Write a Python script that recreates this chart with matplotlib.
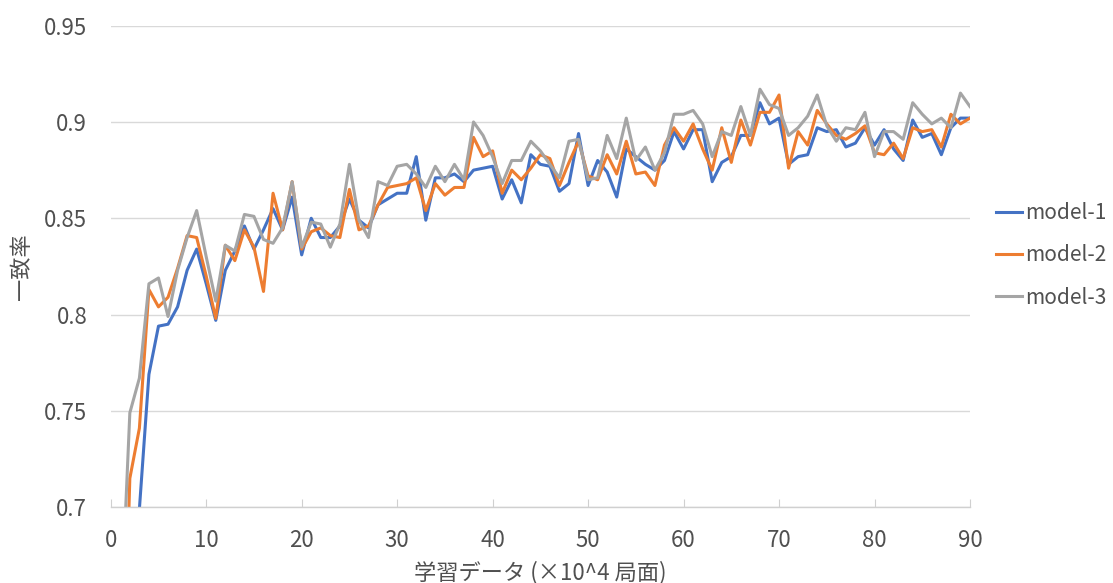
#! /usr/bin/env python3
# Agreement rate of three models vs. amount of training data

import matplotlib
matplotlib.use("Agg")
import matplotlib.pyplot as plt

plt.rcParams['font.family'] = ['Noto Sans CJK JP', 'DejaVu Sans']

# training data (x 10^4 positions)
steps = list(range(1, 91))

model1 = [0.55, 0.62, 0.699, 0.769, 0.794, 0.795, 0.804, 0.823, 0.834, 0.816,
          0.797, 0.823, 0.833, 0.846, 0.834, 0.844, 0.855, 0.844, 0.861, 0.831,
          0.850, 0.840, 0.840, 0.846, 0.860, 0.849, 0.845, 0.857, 0.860, 0.863,
          0.863, 0.882, 0.849, 0.871, 0.871, 0.873, 0.869, 0.875, 0.876, 0.877,
          0.860, 0.870, 0.858, 0.883, 0.878, 0.877, 0.864, 0.868, 0.894, 0.867,
          0.880, 0.874, 0.861, 0.886, 0.882, 0.878, 0.875, 0.880, 0.895, 0.886,
          0.896, 0.896, 0.869, 0.879, 0.882, 0.893, 0.893, 0.910, 0.899, 0.902,
          0.878, 0.882, 0.883, 0.897, 0.895, 0.896, 0.887, 0.889, 0.897, 0.888,
          0.896, 0.886, 0.880, 0.901, 0.892, 0.894, 0.883, 0.897, 0.902, 0.902]

model2 = [0.55, 0.715, 0.741, 0.813, 0.804, 0.809, 0.824, 0.841, 0.840, 0.820,
          0.798, 0.836, 0.828, 0.844, 0.835, 0.812, 0.863, 0.844, 0.869, 0.834,
          0.843, 0.845, 0.841, 0.840, 0.865, 0.844, 0.846, 0.857, 0.866, 0.867,
          0.868, 0.871, 0.854, 0.868, 0.862, 0.866, 0.866, 0.892, 0.882, 0.885,
          0.863, 0.875, 0.870, 0.876, 0.883, 0.881, 0.867, 0.879, 0.890, 0.872,
          0.870, 0.883, 0.873, 0.890, 0.873, 0.874, 0.867, 0.888, 0.897, 0.890,
          0.899, 0.886, 0.875, 0.897, 0.879, 0.901, 0.888, 0.905, 0.905, 0.914,
          0.876, 0.895, 0.888, 0.906, 0.899, 0.893, 0.891, 0.894, 0.898, 0.884,
          0.883, 0.889, 0.881, 0.897, 0.895, 0.896, 0.887, 0.904, 0.899, 0.902]

model3 = [0.635, 0.749, 0.767, 0.816, 0.819, 0.799, 0.823, 0.840, 0.854, 0.830,
          0.807, 0.836, 0.833, 0.852, 0.851, 0.839, 0.837, 0.845, 0.869, 0.835,
          0.848, 0.847, 0.835, 0.847, 0.878, 0.849, 0.840, 0.869, 0.867, 0.877,
          0.878, 0.873, 0.866, 0.877, 0.869, 0.878, 0.870, 0.900, 0.893, 0.882,
          0.868, 0.880, 0.880, 0.890, 0.885, 0.878, 0.871, 0.890, 0.891, 0.870,
          0.871, 0.893, 0.881, 0.902, 0.880, 0.887, 0.875, 0.884, 0.904, 0.904,
          0.906, 0.899, 0.882, 0.895, 0.893, 0.908, 0.893, 0.917, 0.909, 0.907,
          0.893, 0.897, 0.903, 0.914, 0.898, 0.890, 0.897, 0.896, 0.905, 0.882,
          0.895, 0.895, 0.891, 0.910, 0.904, 0.899, 0.902, 0.897, 0.915, 0.908]

labels = ["model-1", "model-2", "model-3"]
colors = ["#4472C4", "#ED7D31", "#A5A5A5"]

y_ticks = [0.7, 0.75, 0.8, 0.85, 0.9, 0.95]
y_tick_labels = ["0.7", "0.75", "0.8", "0.85", "0.9", "0.95"]
x_ticks = [0, 10, 20, 30, 40, 50, 60, 70, 80, 90]

text_color = "#505050"

fig = plt.figure(figsize=(11.13, 5.83), dpi=100)
ax = fig.add_axes([0.0995, 0.130, 0.772, 0.826])

for series, name, c in zip([model1, model2, model3], labels, colors):
    ax.plot(steps, series, color=c, linewidth=2.2, label=name)

ax.set_xlim(0, 90)
ax.set_ylim(0.7, 0.95)
ax.set_xticks(x_ticks)
ax.set_yticks(y_ticks)
ax.set_yticklabels(y_tick_labels)

# horizontal gridlines only
ax.grid(axis="y", color="#d9d9d9", linewidth=1)
ax.set_axisbelow(True)
for side in ["left", "top", "right"]:
    ax.spines[side].set_visible(False)
ax.spines["bottom"].set_color("#d0d0d0")
ax.spines["bottom"].set_linewidth(1)

ax.tick_params(axis="x", direction="in", length=6, color="#d0d0d0",
               labelsize=16, pad=16, labelcolor=text_color)
ax.tick_params(axis="y", length=0, labelsize=16, pad=17, labelcolor=text_color)

ax.set_xlabel("学習データ (×10^4 局面)", fontsize=16, color=text_color, labelpad=6)
ax.set_ylabel("一致率", fontsize=16, color=text_color, labelpad=8)

# legend sits to the right of the plot area
fig.legend(loc="center left", bbox_to_anchor=(0.895, 0.562), frameon=False,
           fontsize=15, handlelength=1.25, handletextpad=0.15, labelspacing=0.97,
           borderpad=0, borderaxespad=0, labelcolor=text_color)

plt.savefig("out.png", dpi=100)
